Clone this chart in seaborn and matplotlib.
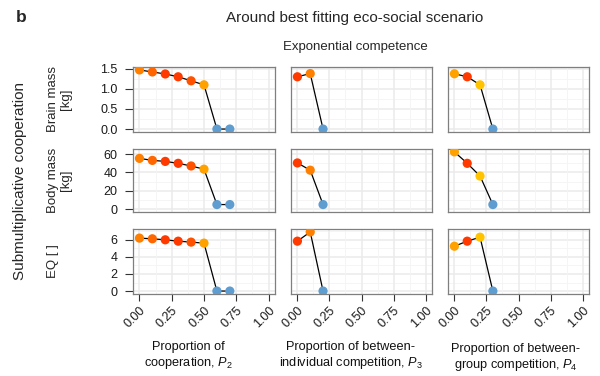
import matplotlib
matplotlib.use("Agg")
import matplotlib.pyplot as plt
import seaborn as sns
import pandas as pd
import numpy as np

sns.set_theme(style="white")
plt.rcParams["font.family"] = ["Liberation Sans", "DejaVu Sans"]
plt.rcParams["mathtext.fontset"] = "custom"
plt.rcParams["mathtext.it"] = "Liberation Sans:italic"
plt.rcParams["mathtext.rm"] = "Liberation Sans"

# ---------------------------------------------------------------------------
# Data
# ---------------------------------------------------------------------------
p2 = [0.0, 0.1, 0.2, 0.3, 0.4, 0.5, 0.6, 0.7]
p2_brain = [1.47, 1.42, 1.37, 1.30, 1.20, 1.10, 0.0, 0.0]
p2_body = [55.4, 53.2, 52.1, 50.0, 47.1, 43.6, 5.0, 5.0]
p2_eq = [6.20, 6.12, 6.00, 5.84, 5.73, 5.61, 0.0, 0.0]
p2_level = ["L4", "L3", "L1", "L1", "L2", "L5", "none", "none"]

p3 = [0.0, 0.1, 0.2]
p3_brain = [1.30, 1.38, 0.0]
p3_body = [50.4, 42.5, 5.0]
p3_eq = [5.84, 6.92, 0.0]
p3_level = ["L1", "L4", "none"]

p4 = [0.0, 0.1, 0.2, 0.3]
p4_brain = [1.375, 1.30, 1.10, 0.0]
p4_body = [62.5, 50.0, 36.1, 5.0]
p4_eq = [5.25, 5.84, 6.31, 0.0]
p4_level = ["L5", "L1", "L6", "none"]

palette = {"L1": "#FF3A00", "L2": "#FF5200", "L3": "#FF6600", "L4": "#FF7F00",
           "L5": "#FFA200", "L6": "#FFC300", "none": "#5F9DD0"}

columns = [
    (p2, {"brain": p2_brain, "body": p2_body, "eq": p2_eq}, p2_level,
     "Proportion of\ncooperation, $P_2$"),
    (p3, {"brain": p3_brain, "body": p3_body, "eq": p3_eq}, p3_level,
     "Proportion of between-\nindividual competition, $P_3$"),
    (p4, {"brain": p4_brain, "body": p4_body, "eq": p4_eq}, p4_level,
     "Proportion of between-\ngroup competition, $P_4$"),
]
rows = ["brain", "body", "eq"]
row_labels = {"brain": "Brain mass\n[kg]", "body": "Body mass\n[kg]", "eq": "EQ [ ]"}
row_ticks = {"brain": [0, 0.5, 1.0, 1.5], "body": [0, 20, 40, 60], "eq": [0, 2, 4, 6]}
row_fmt = {"brain": "{:.1f}", "body": "{:.0f}", "eq": "{:.0f}"}
x_ticks = [0, 0.25, 0.5, 0.75, 1.0]

# ---------------------------------------------------------------------------
# Layout (pixel boxes of the panels)
# ---------------------------------------------------------------------------
W, H = 600, 376
fig = plt.figure(figsize=(W / 100, H / 100), dpi=100)
col_px = [(133, 275), (291, 432), (448, 589)]
row_px = [(67, 132), (149, 212), (229, 294)]
xlabel_pos = [(188, 341), (351, 341), (516, 343)]

# shared y ranges per row, ggplot style expansion
ylims = {}
for r in rows:
    vals = np.concatenate([c[1][r] for c in columns])
    lo, hi = min(0, vals.min()), vals.max()
    pad = 0.05 * (hi - lo)
    ylims[r] = (lo - pad, hi + pad)

for ci, (xs, series, levels, xlabel) in enumerate(columns):
    for ri, r in enumerate(rows):
        x0, x1 = col_px[ci]
        y0, y1 = row_px[ri]
        ax = fig.add_axes([x0 / W, 1 - y1 / H, (x1 - x0) / W, (y1 - y0) / H])
        df = pd.DataFrame({"x": xs, "y": series[r], "level": levels})

        ax.set_xlim(-0.05, 1.05)
        ax.set_ylim(*ylims[r])
        ax.set_facecolor("white")

        # grid: major + minor
        yt = row_ticks[r]
        step = yt[1] - yt[0]
        yminor = [t + step / 2 for t in [yt[0] - step] + yt]
        yminor = [t for t in yminor if ylims[r][0] < t < ylims[r][1]]
        for t in yt:
            ax.axhline(t, color="#EBEBEB", lw=1.1, zorder=0)
        for t in yminor:
            ax.axhline(t, color="#F4F4F4", lw=0.6, zorder=0)
        for t in x_ticks:
            ax.axvline(t, color="#EBEBEB", lw=1.1, zorder=0)
        for t in [0.125, 0.375, 0.625, 0.875]:
            ax.axvline(t, color="#F4F4F4", lw=0.6, zorder=0)

        sns.lineplot(data=df, x="x", y="y", color="black", lw=0.9,
                     estimator=None, sort=False, ax=ax, zorder=2)
        sns.scatterplot(data=df, x="x", y="y", hue="level", palette=palette,
                        s=44, linewidth=0, legend=False, ax=ax, zorder=3)

        for sp in ax.spines.values():
            sp.set_color("#7F7F7F")
            sp.set_linewidth(0.9)
        ax.set_xlabel("")
        ax.set_ylabel("")

        ax.set_yticks(yt)
        if ci == 0:
            ax.set_yticklabels([row_fmt[r].format(t) for t in yt])
            ax.tick_params(axis="y", length=5.5, width=0.8, color="#333333",
                           pad=5.5, labelsize=9, labelcolor="#1A1A1A", left=True)
        else:
            ax.tick_params(axis="y", left=False, labelleft=False)

        ax.set_xticks(x_ticks)
        if ri == 2:
            ax.set_xticklabels([f"{t:.2f}" for t in x_ticks], rotation=45,
                               ha="right", va="top", rotation_mode="anchor")
            ax.tick_params(axis="x", length=5.3, width=0.8, color="#333333",
                           pad=2.5, labelsize=9, labelcolor="#1A1A1A", bottom=True)
        else:
            ax.tick_params(axis="x", bottom=False, labelbottom=False)

    lx, ly = xlabel_pos[ci]
    fig.text(lx / W, 1 - ly / H, xlabel, ha="center", va="top",
             fontsize=9.2, color="#111111", linespacing=1.2)

# row and panel labels
for ri, r in enumerate(rows):
    yc = 1 - (row_px[ri][0] + row_px[ri][1]) / 2 / H
    fig.text(47 / W, yc, row_labels[r], rotation=90, ha="left", va="center",
             multialignment="center", fontsize=9.5, linespacing=1.1)
fig.text(13 / W, 1 - 181 / H, "Submultiplicative cooperation", rotation=90,
         ha="left", va="center", fontsize=11)
fig.text(21 / W, 1 - 18 / H, "b", ha="center", va="center", fontsize=12.5,
         fontweight="bold")
fig.text(355 / W, 1 - 18 / H, "Around best fitting eco-social scenario",
         ha="center", va="center", fontsize=11)
fig.text(355 / W, 1 - 47 / H, "Exponential competence", ha="center",
         va="center", fontsize=9.5)

fig.savefig("out.png", dpi=100)
